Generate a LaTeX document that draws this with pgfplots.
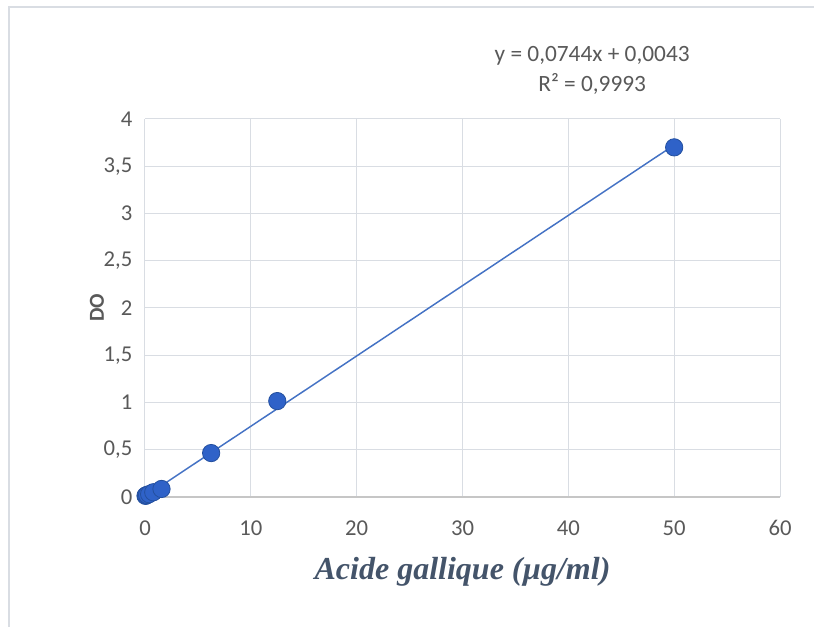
\documentclass[border=0pt]{standalone}
\usepackage{fontspec}
\setmainfont{Carlito}
\newfontfamily\timesfont{Liberation Serif}
\usepackage{pgfplots}
\pgfplotsset{compat=1.18}

\definecolor{txtgray}{HTML}{595959}
\definecolor{gridgray}{HTML}{D9DDE3}
\definecolor{xlab}{HTML}{44546A}
\definecolor{trend}{HTML}{4472C4}
\definecolor{markfill}{HTML}{2F62C8}
\definecolor{markedge}{HTML}{24509F}

\begin{document}
\begin{tikzpicture}
\begin{axis}[
    name=ax,
    scale only axis,
    width=476.25pt, height=283.5pt,
    xmin=0, xmax=60, ymin=0, ymax=4,
    xtick={0,10,...,60},
    ytick={0,0.5,...,4},
    axis line style={draw=none},
    major tick length=0pt,
    grid=major,
    grid style={gridgray, line width=0.75pt},
    tick label style={font=\fontsize{17}{19}\selectfont, text=txtgray},
    /pgf/number format/use comma,
    /pgf/number format/assume math mode=true,
    xticklabel style={yshift=-14pt},
    yticklabel style={xshift=-6pt},
    xlabel={\timesfont\bfseries\itshape Acide gallique (µg/ml)},
    xlabel style={font=\fontsize{24}{28}\selectfont, text=xlab, at={(0.5,0)}, anchor=center, yshift=-56pt},
    clip=false,
]
% trend line y = 0.0744x + 0.0043
\addplot[trend, line width=1.1pt] coordinates {(0,0.0043) (50,3.7243)};
% measured points
\addplot[only marks, mark=*, mark size=6.5pt,
    mark options={fill=markfill, draw=markedge, line width=0.6pt}]
coordinates {
(0.049,0.012) (0.098,0.016) (0.195,0.022) (0.39,0.03) (0.78,0.05)
(1.56,0.085) (6.25,0.465) (12.5,1.015) (50,3.70)
};
\draw[gray!45, line width=0.9pt] (axis cs:0,0) -- (axis cs:60,0);
\node[align=center, text=txtgray, font=\fontsize{17.5}{22}\selectfont]
    at (axis cs:42.25,4.515) {y = 0,0744x + 0,0043\\R² = 0,9993};
\end{axis}
\node[rotate=90, text=txtgray, font=\fontsize{16}{18}\selectfont\bfseries]
    at ([xshift=-36pt]ax.west) {DO};
\pgfresetboundingbox
\path[use as bounding box] ([xshift=-108.75pt,yshift=-97.5pt]ax.south west)
    rectangle ([xshift=25.5pt,yshift=89.25pt]ax.north east);
\draw[gridgray, line width=1pt]
    ([xshift=-102pt,yshift=-97.5pt]ax.south west)
    -- ([xshift=-102pt,yshift=84pt]ax.north west)
    -- ([xshift=25.5pt,yshift=84pt]ax.north east);
\end{tikzpicture}
\end{document}
